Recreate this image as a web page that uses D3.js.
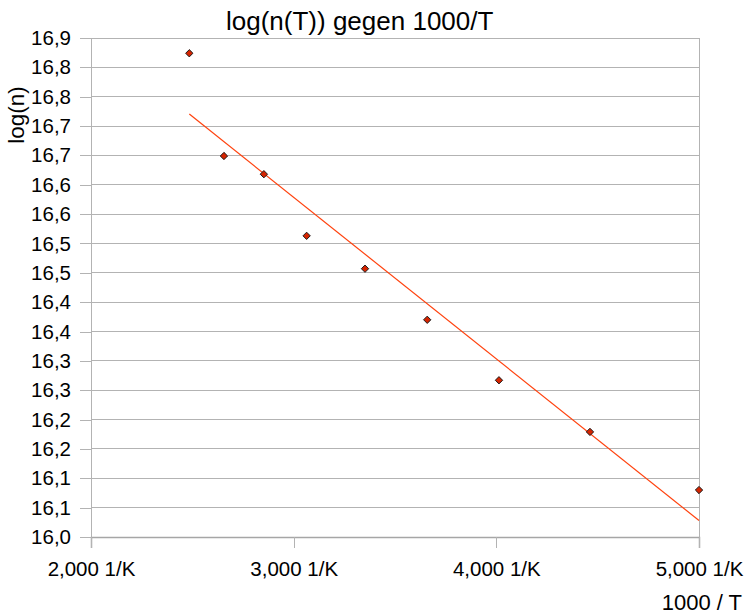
<!DOCTYPE html>
<html>
<head>
<meta charset="utf-8">
<script src="https://cdn.jsdelivr.net/npm/d3@7"></script>
<style>
  body { margin: 0; background: #fff; }
  svg { display: block; font-family: "Liberation Sans", Arial, sans-serif; }
</style>
</head>
<body>
<div id="chart"></div>
<script>
// measured points: 1000/T and log(n)
const xVals = [2.485, 2.656, 2.853, 3.064, 3.352, 3.659, 4.013, 4.462, 5.0];
const yVals = [16.824, 16.649, 16.618, 16.513, 16.457, 16.370, 16.267, 16.179, 16.080];

const xTicks = [2, 3, 4, 5];
const xTickLabels = ["2,000 1/K", "3,000 1/K", "4,000 1/K", "5,000 1/K"];
const yTicks = [16.0, 16.05, 16.1, 16.15, 16.2, 16.25, 16.3, 16.35, 16.4, 16.45,
                16.5, 16.55, 16.6, 16.65, 16.7, 16.75, 16.8, 16.85];
const yTickLabels = ["16,0", "16,1", "16,1", "16,2", "16,2", "16,3", "16,3", "16,4", "16,4",
                     "16,5", "16,5", "16,6", "16,6", "16,7", "16,7", "16,8", "16,8", "16,9"];

const width = 749, height = 615;
const plotL = 91, plotR = 699, plotT = 38, plotB = 537;
const gridColor = "#b3b3b3";

const svg = d3.select("#chart").append("svg")
    .attr("width", width)
    .attr("height", height);

const x = d3.scaleLinear().domain([2, 5]).range([plotL, plotR]);
const y = d3.scaleLinear().domain([16.0, 16.85]).range([plotB, plotT]);

// horizontal grid
svg.append("g")
    .selectAll("line")
    .data(yTicks)
    .join("line")
    .attr("x1", plotL).attr("x2", plotR)
    .attr("y1", d => y(d)).attr("y2", d => y(d))
    .attr("stroke", gridColor)
    .attr("stroke-width", 1)
    .attr("shape-rendering", "crispEdges");

// right edge of the plot area
svg.append("line")
    .attr("x1", plotR).attr("x2", plotR)
    .attr("y1", plotT).attr("y2", plotB)
    .attr("stroke", gridColor)
    .attr("shape-rendering", "crispEdges");

// y axis
const yAxis = svg.append("g")
    .attr("transform", "translate(" + plotL + ",0)")
    .call(d3.axisLeft(y)
        .tickValues(yTicks)
        .tickFormat((d, i) => yTickLabels[i])
        .tickSize(11)
        .tickPadding(9));
yAxis.select(".domain").attr("stroke", gridColor);
yAxis.selectAll(".tick line").attr("stroke", gridColor).attr("shape-rendering", "crispEdges");
yAxis.selectAll(".tick text")
    .attr("font-size", "20.5px")
    .attr("font-family", "Liberation Sans, Arial, sans-serif")
    .attr("fill", "#000");

// x axis
const xAxis = svg.append("g")
    .attr("transform", "translate(0," + plotB + ")")
    .call(d3.axisBottom(x)
        .tickValues(xTicks)
        .tickFormat((d, i) => xTickLabels[i])
        .tickSize(11)
        .tickPadding(13));
xAxis.select(".domain").attr("stroke", "#a6a6a6").attr("stroke-width", 1.5);
xAxis.selectAll(".tick line").attr("stroke", gridColor).attr("shape-rendering", "crispEdges");
xAxis.selectAll(".tick text")
    .attr("font-size", "20.5px")
    .attr("font-family", "Liberation Sans, Arial, sans-serif")
    .attr("fill", "#000");

// linear regression trend line
const points = xVals.map((v, i) => [v, yVals[i]]);
const mx = d3.mean(xVals), my = d3.mean(yVals);
const slope = d3.sum(points, p => (p[0] - mx) * (p[1] - my)) / d3.sum(points, p => (p[0] - mx) ** 2);
const icpt = my - slope * mx;
const xExt = d3.extent(xVals);

svg.append("line")
    .attr("x1", x(xExt[0])).attr("y1", y(icpt + slope * xExt[0]))
    .attr("x2", x(xExt[1])).attr("y2", y(icpt + slope * xExt[1]))
    .attr("stroke", "#ff420e")
    .attr("stroke-width", 1.2);

// diamond markers
const diamond = d3.symbol().type(d3.symbolDiamond2).size(34);
svg.append("g")
    .selectAll("path")
    .data(points)
    .join("path")
    .attr("transform", d => "translate(" + x(d[0]) + "," + y(d[1]) + ")")
    .attr("d", diamond)
    .attr("fill", "#d62400")
    .attr("stroke", "#1a1a1a")
    .attr("stroke-width", 1);

// titles
svg.append("text")
    .attr("x", 226).attr("y", 30)
    .attr("font-size", "26px")
    .text("log(n(T)) gegen 1000/T");

svg.append("text")
    .attr("transform", "translate(24,115) rotate(-90)")
    .attr("text-anchor", "middle")
    .attr("font-size", "22.5px")
    .text("log(n)");

svg.append("text")
    .attr("x", 742).attr("y", 610)
    .attr("text-anchor", "end")
    .attr("font-size", "22px")
    .text("1000 / T");
</script>
</body>
</html>
